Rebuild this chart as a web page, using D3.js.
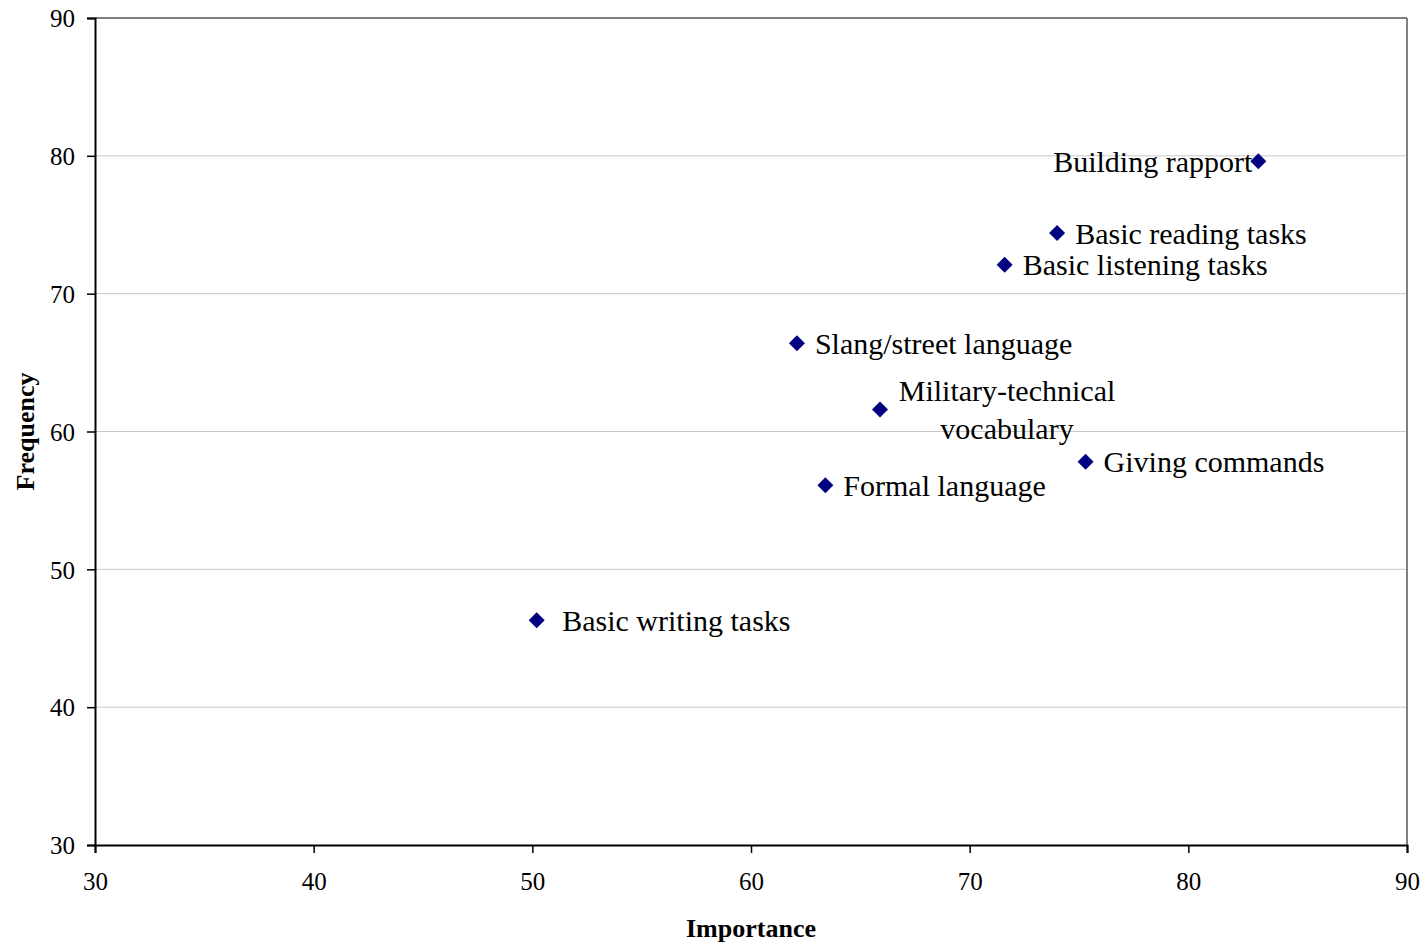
<!DOCTYPE html>
<html><head><meta charset="utf-8">
<script src="https://cdn.jsdelivr.net/npm/d3@7"></script>
<style>body{margin:0;background:#fff}svg{display:block}text{font-family:"Liberation Serif","Times New Roman",serif;white-space:pre}</style>
</head><body>
<svg id="c" width="1427" height="944"></svg>
<script>
const labels = ["Building rapport","Basic reading tasks","Basic listening tasks","Slang/street language","Military-technical\nvocabulary","Giving commands","Formal language"," Basic writing tasks"];
const importance = [83.2, 74.0, 71.6, 62.1, 65.9, 75.3, 63.4, 50.2];
const frequency = [79.6, 74.4, 72.1, 66.4, 61.6, 57.8, 56.1, 46.3];
const xTicks = [30,40,50,60,70,80,90];
const yTicks = [30,40,50,60,70,80,90];

const svg = d3.select("#c");
const L=95,R=1407,T=18,B=845;
const x = d3.scaleLinear().domain([30,90]).range([L,R]);
const y = d3.scaleLinear().domain([30,90]).range([B,T]);

svg.append("g").selectAll("line").data(yTicks.filter(d=>d>30 && d<90)).join("line")
  .attr("x1",L).attr("x2",R).attr("y1",d=>y(d)).attr("y2",d=>y(d))
  .attr("stroke","#c8c8c8").attr("stroke-width",1);
svg.append("line").attr("x1",L).attr("x2",R).attr("y1",T).attr("y2",T).attr("stroke","#808080").attr("stroke-width",2);
svg.append("line").attr("x1",R).attr("x2",R).attr("y1",T).attr("y2",B).attr("stroke","#808080").attr("stroke-width",2);

const fs=25;
const yAxis = svg.append("g").attr("transform",`translate(${L},0)`)
  .call(d3.axisLeft(y).tickValues(yTicks).tickSize(8).tickPadding(12).tickFormat(d3.format("d")));
const xAxis = svg.append("g").attr("transform",`translate(0,${B})`)
  .call(d3.axisBottom(x).tickValues(xTicks).tickSize(8).tickPadding(19).tickFormat(d3.format("d")));
[yAxis,xAxis].forEach(g=>{
  g.select(".domain").attr("stroke","#000").attr("stroke-width",2);
  g.selectAll(".tick line").attr("stroke","#000").attr("stroke-width",1.5);
  g.selectAll("text").attr("font-size",fs).attr("fill","#000").attr("font-family",'"Liberation Serif",serif');
});
yAxis.selectAll("text").attr("dy","0.35em");

svg.append("text").attr("x",(L+R)/2).attr("y",937).attr("text-anchor","middle")
  .attr("font-size",26).attr("font-weight","bold").text("Importance");
svg.append("text").attr("transform",`translate(34,${(T+B)/2}) rotate(-90)`).attr("text-anchor","middle")
  .attr("font-size",26).attr("font-weight","bold").text("Frequency");

const data = labels.map((l,i)=>({l,x:importance[i],y:frequency[i]}));
const h=8;
svg.append("g").selectAll("path").data(data).join("path")
  .attr("d",`M0,${-h}L${h},0L0,${h}L${-h},0Z`).attr("transform",d=>`translate(${x(d.x)},${y(d.y)})`).attr("fill","#000080");

const lf=30;
const lg = svg.append("g");
data.forEach((d,i)=>{
  const px=x(d.x), py=y(d.y);
  const lines=d.l.split("\n");
  if(i===0){
    lg.append("text").attr("x",px-6).attr("y",py).attr("dy","0.35em").attr("text-anchor","end")
      .attr("font-size",lf).text(d.l);
  } else if(lines.length>1){
    const t=lg.append("text").attr("font-size",lf).attr("text-anchor","middle");
    const cx=px+127;
    lines.forEach((ln,k)=>{
      t.append("tspan").attr("x",cx).attr("y",py+(k-0.5)*38).attr("dy","0.35em").text(ln);
    });
  } else {
    lg.append("text").attr("x",px+18).attr("y",py).attr("dy","0.35em")
      .attr("font-size",lf).text(d.l);
  }
});
</script>
</body></html>
